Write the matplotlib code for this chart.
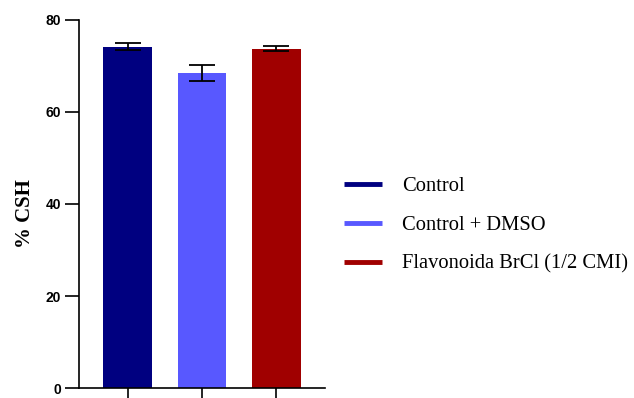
import matplotlib
matplotlib.use("Agg")
import matplotlib.pyplot as plt
from matplotlib.lines import Line2D

groups = ["Control", "Control + DMSO", "Flavonoida BrCl (1/2 CMI)"]
means = [74.2, 68.5, 73.8]
sems = [0.75, 1.7, 0.45]
colors = ["#000080", "#5858FF", "#A00000"]
yticks = [0, 20, 40, 60, 80]

fig = plt.figure(figsize=(6.34, 3.98), dpi=100)
ax = fig.add_axes([79 / 634, 10 / 398, 246 / 634, 368 / 398])

x = list(range(len(groups)))
ax.bar(x, means, width=0.66, color=colors, edgecolor="none", zorder=2)
ax.errorbar(x, means, yerr=sems, fmt="none", ecolor="black",
            elinewidth=1.3, capsize=9.5, capthick=1.3, zorder=3)

ax.set_xlim(-0.66, 2.66)
ax.set_ylim(0, 80)
ax.set_yticks(yticks)
ax.set_yticklabels([str(v) for v in yticks], fontfamily="Liberation Sans",
                   fontweight="bold", fontsize=10)
ax.set_xticks(x)
ax.set_xticklabels([])
ax.tick_params(axis="both", direction="out", length=10, width=1.2, pad=3)
for side in ("top", "right"):
    ax.spines[side].set_visible(False)
for side in ("left", "bottom"):
    ax.spines[side].set_linewidth(1.2)

ax.set_ylabel("% CSH", fontfamily="Liberation Serif", fontweight="bold", fontsize=15)
ax.yaxis.set_label_coords(-0.18, 0.475)

handles = [Line2D([0], [0], color=c, lw=3.5, solid_capstyle="butt") for c in colors]
fig.legend(handles, groups, loc="upper left", bbox_to_anchor=(325 / 634, 1 - 158 / 398),
           frameon=False, prop={"family": "Liberation Serif", "size": 14.8},
           handlelength=1.86, handletextpad=0.98, labelspacing=0.95)

fig.savefig("out.png", dpi=100)
